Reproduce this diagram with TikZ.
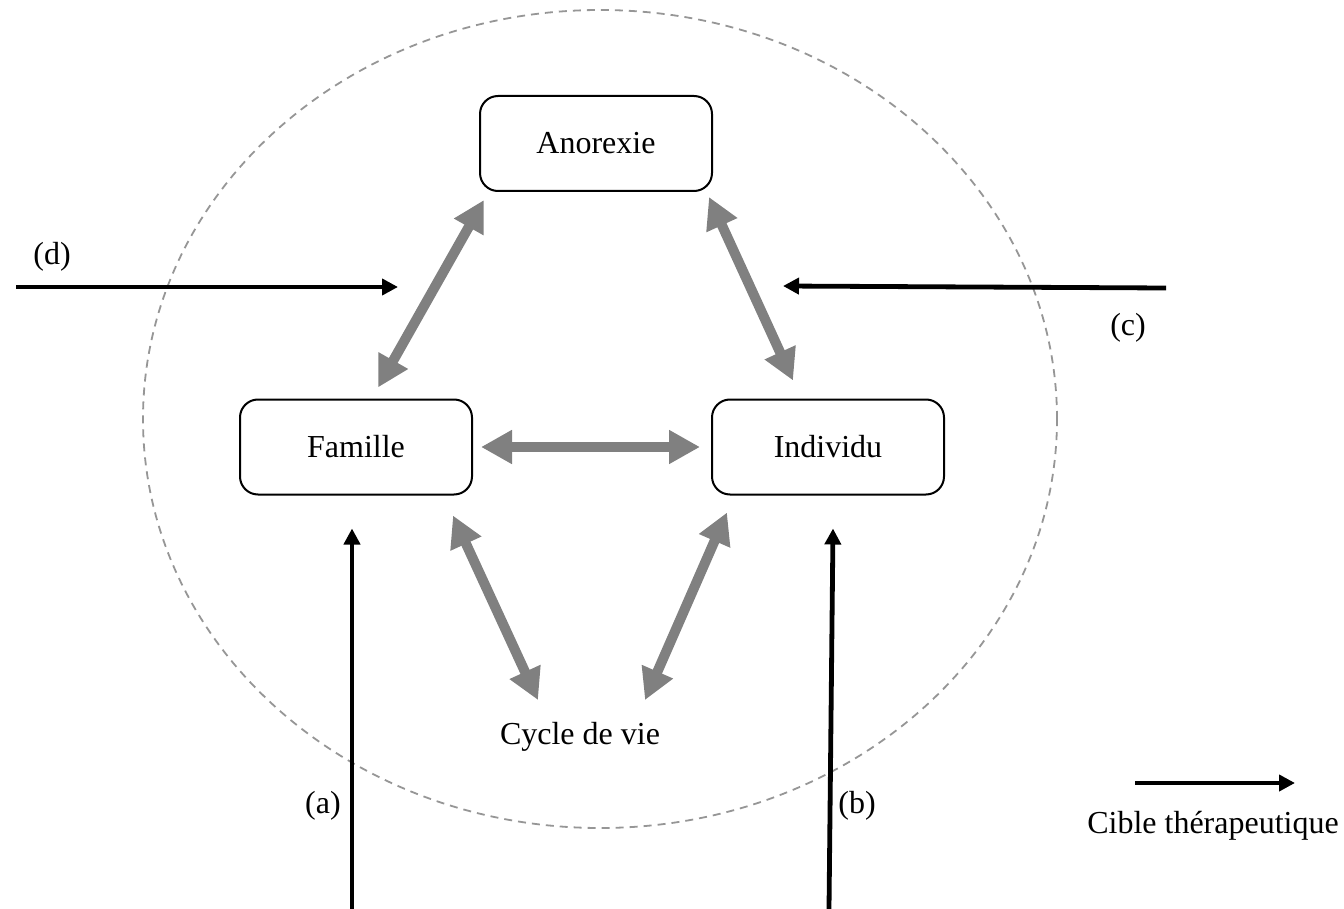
\documentclass[tikz,border=0pt]{standalone}
\usepackage{fontspec}
\setmainfont{Liberation Serif}
\usetikzlibrary{arrows.meta,calc}
\begin{document}
\begin{tikzpicture}[x=0.5pt,y=-0.5pt,
  box/.style={draw=black,line width=1pt,rounded corners=9pt,minimum width=116pt,minimum height=47.5pt,inner sep=0pt,font=\fontsize{16}{19}\selectfont},
  lbl/.style={inner sep=0pt,font=\fontsize{16}{19}\selectfont},
  grayarrow/.style={draw={rgb,255:red,128;green,128;blue,128},line width=5pt,{Triangle[length=15.5pt,width=16pt]}-{Triangle[length=15.5pt,width=16pt]}},
  blackarrow/.style={draw=black,line width=2.4pt,-{Triangle[length=8pt,width=8pt]}},
  boundary/.style={draw={rgb,255:red,150;green,150;blue,150},line width=0.9pt,dash pattern=on 4pt off 3pt}]
\useasboundingbox (0,0) rectangle (1344,909);
\draw[boundary] (600,419) ellipse [x radius=457pt*0.5, y radius=409pt*0.5];
\node[box] (anor) at (596,143.5) {Anorexie};
\node[box] (fam) at (356,447) {Famille};
\node[box] (ind) at (828,447) {Individu};
\node[lbl] (cyc) at (580,737) {Cycle de vie};
\draw[grayarrow] ($(anor.south west)+(5,8)$) -- ($(fam.north)+(22,-11)$);
\draw[grayarrow] ($(anor.south east)+(-4,5)$) -- ($(ind.north)+(-35,-18)$);
\draw[grayarrow] ($(fam.east)+(8,0)$) -- ($(ind.west)+(-11,0)$);
\draw[grayarrow] ($(fam.south east)+(-20,20)$) -- ($(cyc.north)+(-42,-22)$);
\draw[grayarrow] ($(ind.south west)+(16,17)$) -- ($(cyc.north)+(65,-22)$);
\coordinate (d0) at (16,287);
\coordinate (d1) at (398,287);
\coordinate (c0) at (1166,288);
\coordinate (c1) at (783,286);
\coordinate (a0) at (352,909);
\coordinate (b0) at (829,909);
\coordinate (l0) at (1135,783);
\coordinate (l1) at (1295,783);
\draw[blackarrow] (d0) -- (d1);
\draw[blackarrow] (c0) -- (c1);
\draw[blackarrow] (a0) -- ($(fam.south)+(-4,33)$);
\draw[blackarrow] (b0) -- ($(ind.south)+(5,33)$);
\draw[blackarrow] (l0) -- (l1);
\node[lbl] (ld) at (52,257) {(d)};
\node[lbl] (lc) at (1128,328) {(c)};
\node[lbl] (la) at (323,806) {(a)};
\node[lbl] (lb) at (857,806) {(b)};
\node[lbl] (leg) at (1213,826) {Cible thérapeutique};
\end{tikzpicture}
\end{document}
